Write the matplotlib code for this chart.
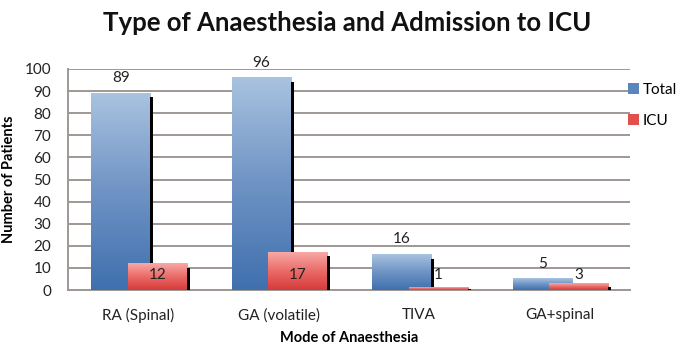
import numpy as np
import matplotlib
matplotlib.use('Agg')
import matplotlib.pyplot as plt
from matplotlib.colors import LinearSegmentedColormap
from matplotlib.patches import Patch

# data
modes = ['RA (Spinal)', 'GA (volatile)', 'TIVA', 'GA+spinal']
total = [89, 96, 16, 5]
icu = [12, 17, 1, 3]

plt.rcParams['font.family'] = ['Lato', 'DejaVu Sans']

blue_cm = LinearSegmentedColormap.from_list('b', ['#3f70ae', '#6f93c4', '#a9c3e0'])
red_cm = LinearSegmentedColormap.from_list('r', ['#d53b39', '#ea6b68', '#f8a9a6'])

grad = np.linspace(0, 1, 256).reshape(-1, 1)


def gradient_bar(ax, x, w, h, cmap, z):
    # vertical gradient clipped to the bar rectangle
    if h <= 0:
        return
    ax.imshow(grad, extent=[x - w / 2, x + w / 2, 0, h], origin='lower',
              aspect='auto', cmap=cmap, zorder=z)


fig = plt.figure(figsize=(6.88, 3.52), dpi=100)
ax = fig.add_axes([0.0988, 0.176, 0.8169, 0.628])

x = np.arange(len(modes))
w = 0.42
off_t, off_i = -0.125, 0.135
sh_w = 0.022

for i in range(len(modes)):
    xt = x[i] + off_t
    gradient_bar(ax, xt, w, total[i], blue_cm, 3)
    ax.bar(xt + w / 2 + sh_w / 2, max(total[i] - 1.8, 0.3), sh_w, color='black', zorder=3.5)
    xi = x[i] + off_i
    gradient_bar(ax, xi, w, icu[i], red_cm, 4)
    ax.bar(xi + w / 2 + sh_w / 2, max(icu[i] - 1.8, 0.3), sh_w, color='black', zorder=4.5)

    ax.annotate(str(total[i]), (xt, total[i]), xytext=(0, 11), textcoords='offset points',
                ha='center', va='center', fontsize=11, color='#222222', zorder=6)
    ax.text(xi, 7, str(icu[i]), ha='center', va='center', fontsize=11,
            color='#222222', zorder=6)

ax.set_xlim(-0.5, len(modes) - 0.5)
ax.set_ylim(0, 100)
ax.set_yticks(range(0, 101, 10))
ax.set_xticks(x)
ax.set_xticklabels(modes)
ax.tick_params(axis='both', length=0, labelsize=11, colors='#222222')
ax.tick_params(axis='x', pad=13)
ax.tick_params(axis='y', pad=12)

ax.grid(axis='y', color='#9e9793', linewidth=1.4, zorder=0)
ax.set_axisbelow(True)
for s in ['top', 'right']:
    ax.spines[s].set_visible(False)
for s in ['left', 'bottom']:
    ax.spines[s].set_color('#9e9793')
    ax.spines[s].set_linewidth(1.4)

ax.set_ylabel('Number of Patients', fontsize=10.5, fontweight='bold', labelpad=6)
ax.set_xlabel('Mode of Anaesthesia', fontsize=10.5, fontweight='bold', labelpad=6)

fig.text(0.505, 0.935, 'Type of Anaesthesia and Admission to ICU', ha='center',
         va='center', fontsize=18.5, fontweight='bold', color='#111111')

handles = [Patch(facecolor='#5a86bd', edgecolor='none'),
           Patch(facecolor='#e0504d', edgecolor='none')]
fig.legend(handles, ['Total', 'ICU'], loc='upper left', bbox_to_anchor=(0.913, 0.765),
           frameon=False, fontsize=11, handlelength=0.7, handleheight=0.7,
           handletextpad=0.25, labelspacing=1.1, borderaxespad=0, borderpad=0)

fig.savefig('out.png', dpi=100)
